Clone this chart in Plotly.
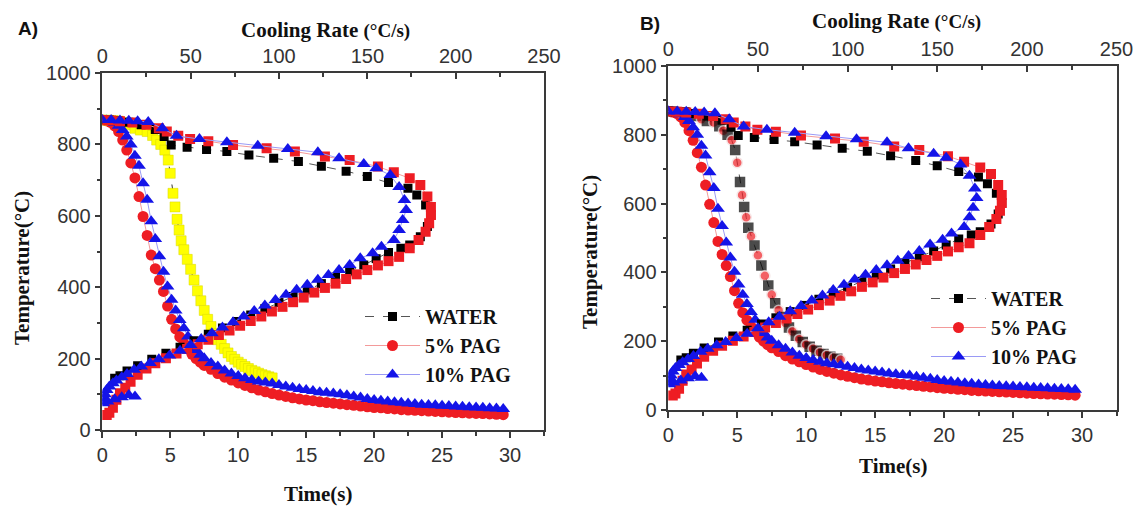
import plotly.graph_objects as go

# ------------------------------------------------------------------ data
# Cooling curves: temperature (°C) versus time (s)
water_time = [0, 0.4, 0.8, 1.2, 1.6, 2.0, 2.4, 2.8, 3.3, 3.7, 4.0, 4.3, 4.6, 4.85, 5.0, 5.2,
              5.35, 5.5, 5.65, 5.8, 6.0, 6.25, 6.5, 6.75, 7.0, 7.25, 7.5, 7.75, 8.0, 8.25, 8.5,
              8.75, 9.0, 9.25, 9.5, 9.75, 10.0, 10.25, 10.5, 10.75, 11.0, 11.25, 11.5, 11.75,
              12.0, 12.25, 12.5]
water_temp = [868, 868, 867, 865, 861, 855, 845, 840, 836, 825, 812, 800, 784, 756, 719, 663,
              625, 590, 560, 530, 505, 478, 450, 420, 390, 362, 335, 310, 290, 270, 253,
              240, 228, 216, 206, 198, 190, 184, 178, 172, 167, 163, 159, 155,
              152, 149, 146]

pag5_time = [0, 0.3, 0.6, 0.9, 1.2, 1.5, 1.8, 2.1, 2.4, 2.7, 3.0, 3.3, 3.6, 3.9, 4.2, 4.5,
             4.8, 5.1, 5.4, 5.7, 6.0, 6.3, 6.6, 6.9, 7.2, 7.5,
             8.0, 8.5, 9.0, 9.5, 10.0, 10.5, 11.0, 11.5, 12.0, 12.5, 13.0, 13.5, 14.0, 14.5,
             15.0, 15.5, 16.0, 16.5, 17.0, 17.5, 18.0, 18.5, 19.0, 19.5, 20.0, 20.5, 21.0,
             21.5, 22.0, 22.5, 23.0, 23.5, 24.0, 24.5, 25.0, 25.5, 26.0, 26.5, 27.0, 27.5,
             28.0, 28.5, 29.0, 29.5]
pag5_temp = [868, 866, 862, 852, 836, 812, 784, 748, 706, 654, 598, 545, 490, 452, 420, 388,
             347, 310, 283, 261, 243, 227, 212, 200, 190, 181,
             170, 158, 148, 140, 132, 125, 118, 112, 107, 102, 98, 94, 90, 87,
             84, 82, 79, 77, 75, 73, 71, 69, 67, 65, 63, 62, 60,
             59, 57, 56, 55, 54, 53, 52, 51, 50, 49, 48, 47, 46.5,
             46, 45, 44, 43]

pag10_time = [0, 0.3, 0.6, 0.9, 1.2, 1.5, 1.8, 2.1, 2.4, 2.7, 3.0, 3.3, 3.6, 3.9, 4.2, 4.5,
              4.8, 5.1, 5.4, 5.7, 6.0, 6.3, 6.6, 6.9, 7.2, 7.5,
              8.0, 8.5, 9.0, 9.5, 10.0, 10.5, 11.0, 11.5, 12.0, 12.5, 13.0, 13.5, 14.0, 14.5,
              15.0, 15.5, 16.0, 16.5, 17.0, 17.5, 18.0, 18.5, 19.0, 19.5, 20.0, 20.5, 21.0,
              21.5, 22.0, 22.5, 23.0, 23.5, 24.0, 24.5, 25.0, 25.5, 26.0, 26.5, 27.0, 27.5,
              28.0, 28.5, 29.0, 29.5]
pag10_temp = [868, 867, 865, 860, 852, 840, 822, 800, 768, 740, 691, 645, 585, 535, 487, 443,
              402, 365, 335, 308, 285, 262, 240, 224, 211, 201,
              188, 178, 167, 158, 151, 145, 140, 136, 133, 130, 126, 122, 118, 115,
              112, 109, 106, 104, 102, 100, 97, 94, 91, 87, 84, 82, 80,
              78, 76, 74, 73, 71, 70, 69, 68, 67, 66, 65, 64, 63,
              62, 61, 60, 59]

# Cooling-rate curves: temperature (°C) versus cooling rate (°C/s)
water_rate = [0, 4, 9, 15, 22, 30, 35, 39, 48, 59, 70.5, 83, 97, 111, 124, 138, 150, 162, 173,
              178, 183, 186, 184, 180, 174, 169, 162, 155, 148, 140, 132, 124, 116, 108, 100,
              92, 84, 76, 68, 60, 52, 44, 36, 28, 20, 14, 10, 7]
water_rate_temp = [869, 868, 866, 862, 855, 842, 822, 798, 792, 786, 780, 770, 761, 752, 739,
                   725, 710, 693, 677, 658, 630, 602, 570, 541, 518, 509, 497, 480, 462, 445,
                   428, 410, 392, 374, 357, 340, 322, 304, 286, 268, 250, 232, 215, 198, 180,
                   165, 152, 145]

pag5_rate = [0, 5, 10, 17, 25, 32, 36.5, 43, 49.7, 60, 74, 93, 109, 126, 140, 156, 165, 174,
             180, 184, 186, 186, 185, 183, 179, 174, 168, 162, 156, 150, 144, 138, 132, 126,
             120, 114, 108, 102, 96, 90, 84, 78, 72, 66, 60, 54, 48, 42, 36, 30, 25, 20, 16,
             13, 10, 8, 6, 4, 2.5]
pag5_rate_temp = [868, 867, 865, 861, 855, 845, 836, 824, 815, 809, 798, 789, 780, 766, 756,
                  738, 722, 705, 686, 654, 625, 602, 579, 555, 532, 509, 485, 473, 461, 448,
                  436, 423, 410, 398, 385, 371, 358, 345, 332, 318, 305, 292, 279, 266, 253,
                  240, 227, 214, 201, 187, 172, 155, 135, 118, 103, 85, 62, 48, 42]

pag10_rate = [0, 5, 10, 15, 20, 26, 34, 42, 55, 70.5, 88, 105, 122, 134, 148, 155, 163, 168,
              171, 172, 170, 168, 165, 158, 153, 146, 140, 134, 128, 122, 116, 110, 104, 98,
              92, 86, 80, 74, 68, 62, 56, 50, 44, 38, 32, 27, 22, 18, 14, 11, 8, 6, 4, 2.5,
              1.5, 0.8, 0.5, 3, 7, 11, 15, 18.5]
pag10_rate_temp = [868, 868, 867, 866, 865, 863, 845, 824, 815, 806, 796, 787, 778, 761, 745,
                   733, 714, 681, 644, 616, 588, 560, 532, 513, 495, 481, 462, 448, 434, 421,
                   407, 393, 379, 364, 349, 333, 318, 302, 287, 271, 255, 238, 222, 209, 198,
                   188, 178, 169, 157, 148, 139, 131, 122, 112, 100, 88, 75, 80, 86, 92, 98, 94]

series_names = ["WATER", "5% PAG", "10% PAG"]
time_ticks = [0, 5, 10, 15, 20, 25, 30]
rate_ticks = [0, 50, 100, 150, 200, 250]
temp_ticks = [0, 200, 400, 600, 800, 1000]

# ------------------------------------------------------------------ style
W, H = 1140, 508
NUM_FONT = "Arial, 'Liberation Sans', sans-serif"
SERIF = "'Times New Roman', 'Liberation Serif', serif"
BLACK, RED, BLUE, YELLOW = "#000000", "#ee1d23", "#1414e8", "#ffff00"
AXIS_COL = "#3a3a3a"


def fx(p):
    return p / W


def fy(p):
    return 1 - p / H


fig = go.Figure()


def add_panel(xb, xt, ya, leg, highlight):
    fig.add_trace(go.Scatter(
        x=water_rate, y=water_rate_temp, xaxis=xt, yaxis=ya, mode="lines+markers",
        name=series_names[0], legend=leg, legendrank=1, showlegend=True,
        line=dict(color="#555555", width=1, dash="dash"),
        marker=dict(symbol="square", size=9, color=BLACK)))
    fig.add_trace(go.Scatter(
        x=pag5_rate, y=pag5_rate_temp, xaxis=xt, yaxis=ya, mode="lines+markers",
        showlegend=False, line=dict(color="#f39a9a", width=1),
        marker=dict(symbol="square", size=10, color=RED)))
    fig.add_trace(go.Scatter(
        x=pag5_time, y=pag5_temp, xaxis=xb, yaxis=ya, mode="lines+markers",
        name=series_names[1], legend=leg, legendrank=2, showlegend=True,
        line=dict(color="#f39a9a", width=1),
        marker=dict(symbol="circle", size=11, color=RED)))
    if highlight:
        fig.add_trace(go.Scatter(
            x=water_time, y=water_temp, xaxis=xb, yaxis=ya, mode="lines+markers",
            showlegend=False, line=dict(color="#333333", width=1, dash="dash"),
            marker=dict(symbol="square", size=10, color=YELLOW,
                        line=dict(color="#d6d600", width=0.5))))
    else:
        n = len(water_time)
        fig.add_trace(go.Scatter(
            x=water_time, y=water_temp, xaxis=xb, yaxis=ya, mode="lines+markers",
            showlegend=False, line=dict(color="#555555", width=1, dash="dash"),
            marker=dict(symbol=["circle" if i % 2 == 0 else "square" for i in range(n)],
                        size=[10 if i % 2 == 0 else 9 for i in range(n)],
                        color=[RED if i % 2 == 0 else BLACK for i in range(n)],
                        line=dict(color=["#f4dede" if i % 2 == 0 else BLACK for i in range(n)],
                                  width=1.5))))
    fig.add_trace(go.Scatter(
        x=pag10_rate, y=pag10_rate_temp, xaxis=xt, yaxis=ya, mode="lines+markers",
        showlegend=False, line=dict(color="#9a9af5", width=1),
        marker=dict(symbol="triangle-up", size=12, color=BLUE)))
    fig.add_trace(go.Scatter(
        x=pag10_time, y=pag10_temp, xaxis=xb, yaxis=ya, mode="lines+markers",
        name=series_names[2], legend=leg, legendrank=3, showlegend=True,
        line=dict(color="#9a9af5", width=1),
        marker=dict(symbol="triangle-up", size=12, color=BLUE)))


add_panel("x", "x2", "y", "legend", True)
add_panel("x3", "x4", "y2", "legend2", False)

tickfont = dict(family=NUM_FONT, size=20, color="#333333")
common = dict(showgrid=False, zeroline=False, showline=True, linecolor=AXIS_COL,
              linewidth=1.5, tickcolor=AXIS_COL, tickwidth=1.5, tickfont=tickfont,
              automargin=False)


def time_axis(domain, anchor):
    return dict(common, domain=domain, anchor=anchor, range=[0, 32.5],
                tickmode="array", tickvals=time_ticks, ticktext=[str(v) for v in time_ticks],
                ticks="outside", ticklen=6,
                minor=dict(dtick=2.5, tick0=0, ticks="outside", ticklen=4,
                           tickcolor=AXIS_COL, tickwidth=1.5))


def rate_axis(base, anchor):
    return dict(common, overlaying=base, anchor=anchor, side="top", range=[0, 250],
                tickmode="array", tickvals=rate_ticks, ticktext=[str(v) for v in rate_ticks],
                ticks="inside", ticklen=6,
                minor=dict(dtick=25, tick0=0, ticks="inside", ticklen=4,
                           tickcolor=AXIS_COL, tickwidth=1.5))


def temp_axis(domain, anchor):
    return dict(common, domain=domain, anchor=anchor, range=[0, 1000], mirror=True,
                tickmode="array", tickvals=temp_ticks, ticktext=[str(v) for v in temp_ticks],
                ticks="outside", ticklen=6,
                minor=dict(dtick=100, tick0=0, ticks="outside", ticklen=4,
                           tickcolor=AXIS_COL, tickwidth=1.5))


legend_style = dict(xanchor="left", yanchor="top", bgcolor="rgba(0,0,0,0)", borderwidth=0,
                    font=dict(family=SERIF, size=20, color="#111111", weight="bold"),
                    itemwidth=55, tracegroupgap=0, traceorder="normal")

fig.update_layout(
    width=W, height=H, margin=dict(l=0, r=0, t=0, b=0, autoexpand=False),
    paper_bgcolor="white", plot_bgcolor="white",
    xaxis=time_axis([fx(102.3), fx(544)], "y"),
    xaxis2=rate_axis("x", "y"),
    yaxis=temp_axis([fy(430), fy(73)], "x"),
    xaxis3=time_axis([fx(668.3), fx(1116.5)], "y2"),
    xaxis4=rate_axis("x3", "y2"),
    yaxis2=temp_axis([fy(410), fy(66)], "x3"),
    legend=dict(legend_style, x=fx(360), y=fy(297)),
    legend2=dict(legend_style, x=fx(926), y=fy(279)),
)

title_font = dict(family=SERIF, size=21, color="#111111", weight="bold")
annos = [
    ("A)", 28, 28, 0, dict(family=NUM_FONT, size=19, color="#111111", weight="bold")),
    ("B)", 650, 23, 0, dict(family=NUM_FONT, size=19, color="#111111", weight="bold")),
    ("Cooling Rate <span style='font-size:19px'>(°C/s)</span>", 325, 30, 0, title_font),
    ("Cooling Rate <span style='font-size:19px'>(°C/s)</span>", 896, 21, 0, title_font),
    ("Time(s)", 318, 494, 0, title_font),
    ("Time(s)", 893, 466, 0, title_font),
    ("Temperature(°C)", 22, 268, -90, title_font),
    ("Temperature(°C)", 590, 252, -90, title_font),
]
for text, x, y, ang, font in annos:
    fig.add_annotation(text=text, x=fx(x), y=fy(y), xref="paper", yref="paper",
                       showarrow=False, xanchor="center", yanchor="middle",
                       textangle=ang, font=font)

fig.write_html("out.html", config={"displayModeBar": False},
               post_script="document.body.style.margin='0';document.body.style.overflow='hidden';")
